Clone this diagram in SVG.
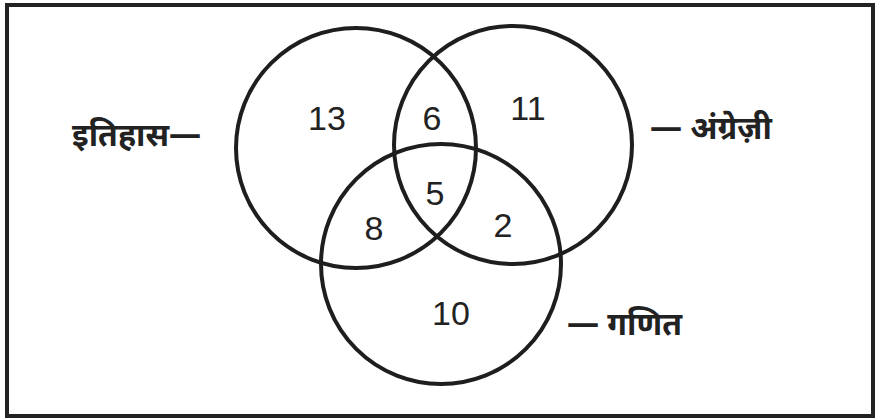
<svg xmlns="http://www.w3.org/2000/svg" width="879" height="419" viewBox="0 0 879 419">
<style>
.c{fill:none;stroke:#1e1e1e;stroke-width:4}
.n{font-family:"Liberation Sans",Arial,sans-serif;font-size:34px;fill:#222;text-anchor:middle}
.l{font-family:"Noto Sans Devanagari","Noto Sans","DejaVu Sans",sans-serif;font-size:32px;font-weight:bold;fill:#222}
</style>
<rect x="0" y="0" width="879" height="419" fill="#fff"/>
<rect x="7" y="5" width="866" height="411" fill="none" stroke="#222" stroke-width="4"/>
<g id="itihas">
<circle class="c" cx="356" cy="148" r="120"/>
<text class="l" x="72" y="146">इतिहास—</text>
</g>
<g id="angrezi">
<circle class="c" cx="513" cy="145" r="119"/>
<text class="l" x="650" y="139">— अंग्रेज़ी</text>
</g>
<g id="ganit">
<circle class="c" cx="441" cy="264" r="120"/>
<text class="l" x="567" y="335">— गणित</text>
</g>
<g id="connectors"></g>
<g id="counts">
<text class="n" x="327" y="130">13</text>
<text class="n" x="432" y="130">6</text>
<text class="n" x="528" y="120">11</text>
<text class="n" x="435" y="205">5</text>
<text class="n" x="374" y="240">8</text>
<text class="n" x="503" y="237">2</text>
<text class="n" x="451" y="325">10</text>
</g>
</svg>
